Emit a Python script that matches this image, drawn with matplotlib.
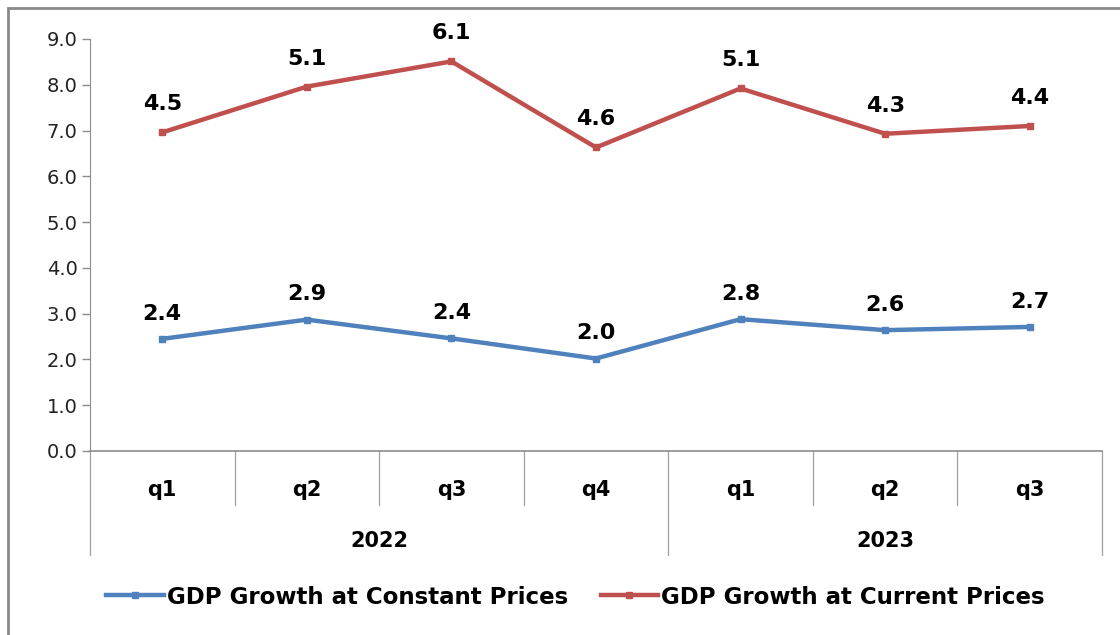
import matplotlib
matplotlib.use("Agg")

import matplotlib.pyplot as plt
from matplotlib.patches import Rectangle


quarters = ["q1", "q2", "q3", "q4", "q1", "q2", "q3"]
years = ["2022", "2023"]
year_sizes = [4, 3]

# plotted positions (the labels differ from them)
constant_values = [2.45, 2.87, 2.46, 2.02, 2.88, 2.64, 2.71]
current_values = [6.96, 7.96, 8.51, 6.63, 7.92, 6.93, 7.10]
constant_labels = ["2.4", "2.9", "2.4", "2.0", "2.8", "2.6", "2.7"]
current_labels = ["4.5", "5.1", "6.1", "4.6", "5.1", "4.3", "4.4"]

BLUE = "#4F81BD"
RED = "#C0504D"
GRID = "#8c8c8c"

W, H = 1120, 635
fig = plt.figure(figsize=(W / 100, H / 100), dpi=100)
ax = fig.add_axes([90 / W, 1 - 451 / H, (1102 - 90) / W, (451 - 39) / H])

x = list(range(len(quarters)))
ax.plot(x, constant_values, color=BLUE, lw=3.2, marker="s", ms=5,
        label="GDP Growth at Constant Prices")
ax.plot(x, current_values, color=RED, lw=3.2, marker="s", ms=5,
        label="GDP Growth at Current Prices")

for xi, v, lab in zip(x, constant_values, constant_labels):
    ax.annotate(lab, (xi, v), xytext=(0, 11), textcoords="offset points",
                ha="center", va="bottom", fontsize=16, fontweight="bold")
for xi, v, lab in zip(x, current_values, current_labels):
    ax.annotate(lab, (xi, v), xytext=(0, 13), textcoords="offset points",
                ha="center", va="bottom", fontsize=16, fontweight="bold")

ax.set_xlim(-0.5, len(quarters) - 0.5)
ax.set_ylim(0, 9)
ax.set_yticks([i for i in range(10)])
ax.set_yticklabels([f"{i:.1f}" for i in range(10)], fontsize=14, color="#222222")
ax.tick_params(axis="y", direction="out", length=6, color=GRID, width=1, pad=3)
ax.set_xticks([])

for side in ["top", "right"]:
    ax.spines[side].set_visible(False)
ax.spines["left"].set_color(GRID)
ax.spines["bottom"].set_color(GRID)
ax.spines["bottom"].set_linewidth(1.2)

# two-level category axis drawn below the plot
tr = ax.get_xaxis_transform()
year_bounds = [-0.5]
for n in year_sizes:
    year_bounds.append(year_bounds[-1] + n)

for b in [i - 0.5 for i in range(len(quarters) + 1)]:
    bottom = -0.252 if b in year_bounds else -0.131
    ax.plot([b, b], [0, bottom], transform=tr, color="#a0a0a0", lw=0.9,
            clip_on=False)

for xi, q in zip(x, quarters):
    ax.text(xi, -0.095, q, transform=tr, ha="center", va="center",
            fontsize=15, fontweight="bold")

for i, yr in enumerate(years):
    mid = (year_bounds[i] + year_bounds[i + 1]) / 2
    ax.text(mid, -0.218, yr, transform=tr, ha="center", va="center",
            fontsize=15, fontweight="bold")

handles, labels = ax.get_legend_handles_labels()
fig.legend(handles, labels, loc="center", bbox_to_anchor=(0.514, 1 - 597 / H),
           ncol=2, frameon=False, handlelength=2.5, handletextpad=0.15,
           columnspacing=1.4, prop={"size": 16.5, "weight": "bold"})

# outer chart border, cut off at right and bottom like the source
fig.add_artist(Rectangle((8 / W, -0.2), 2, 1.2 - 8 / H, transform=fig.transFigure,
                         fill=False, edgecolor="#8a8a8a", lw=2))

fig.savefig("out.png", dpi=100)
